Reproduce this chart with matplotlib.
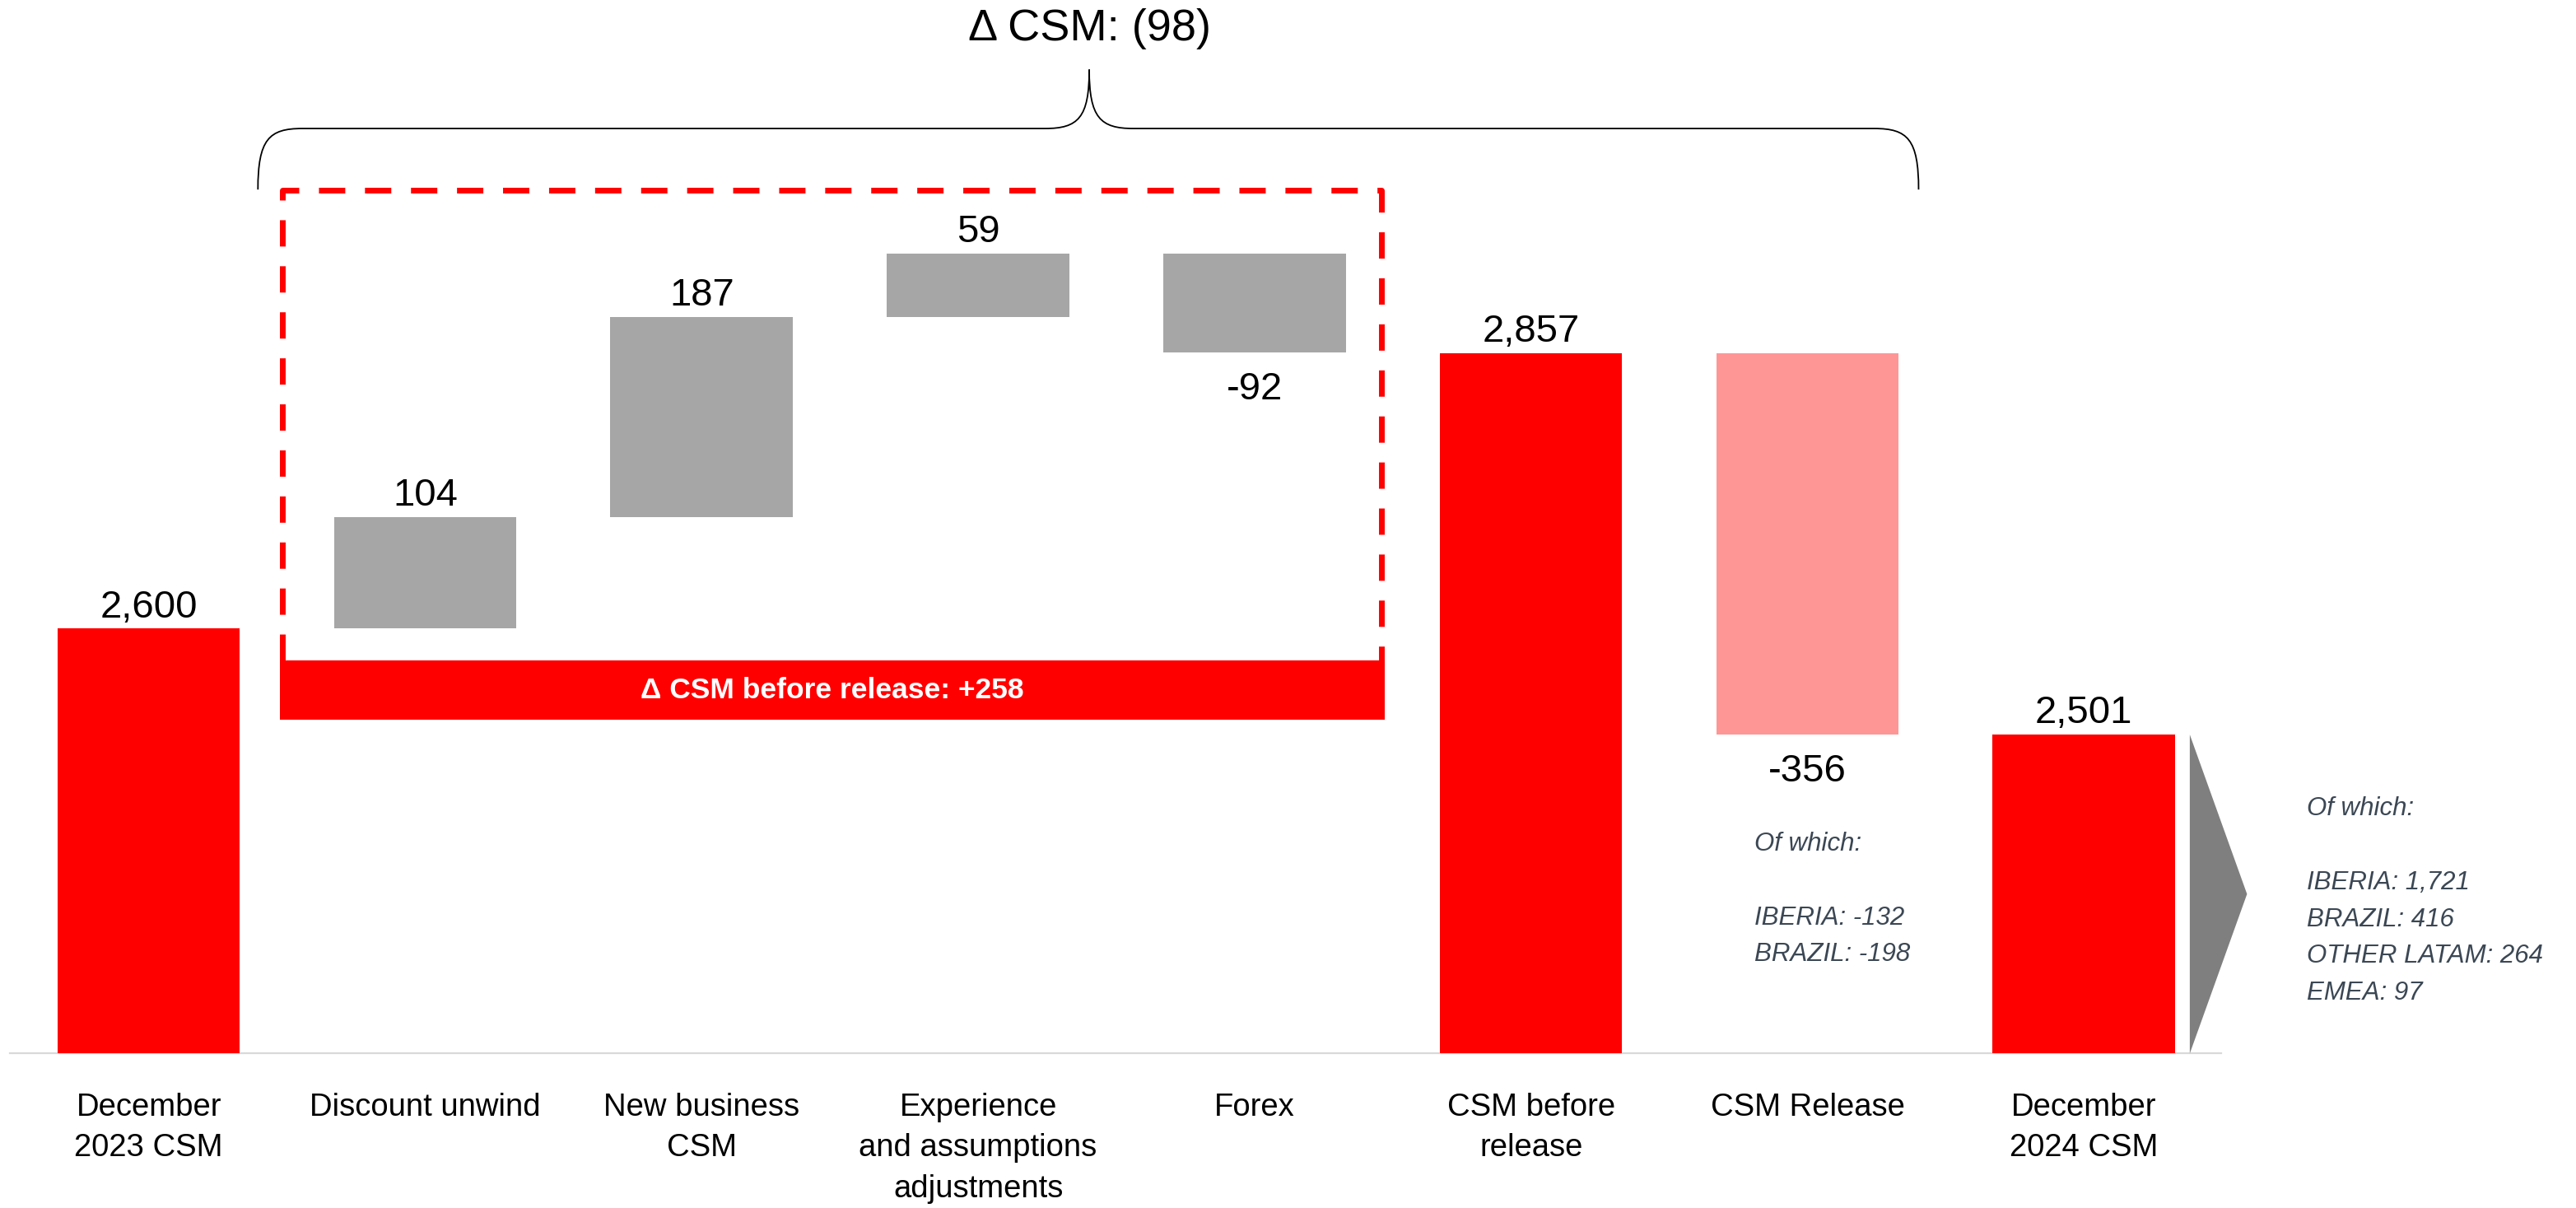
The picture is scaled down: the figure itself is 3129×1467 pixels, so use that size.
import matplotlib
matplotlib.use("Agg")
import matplotlib.pyplot as plt
from matplotlib.path import Path
from matplotlib.patches import PathPatch, Polygon

plt.rcParams['font.family'] = ['Liberation Sans', 'DejaVu Sans']

# data
categories = ["December\n2023 CSM", "Discount unwind", "New business\nCSM",
              "Experience\nand assumptions\nadjustments", "Forex",
              "CSM before\nrelease", "CSM Release", "December\n2024 CSM"]
values = [2600, 104, 187, 59, -92, 2857, -356, 2501]
kinds = ["total", "step", "step", "step", "step", "total", "release", "total"]
delta_before_release = 258
delta_total = -98
release_breakdown = [("IBERIA", -132), ("BRAZIL", -198)]
closing_breakdown = [("IBERIA", 1721), ("BRAZIL", 416), ("OTHER LATAM", 264), ("EMEA", 97)]

BASE = 2203.3   # value where the (broken) axis starts
colors = {"total": "#FF0000", "step": "#A6A6A6", "release": "#FF9696"}
TXT = "#3B4754"

fig = plt.figure(figsize=(31.29, 14.67), dpi=100)
ax = fig.add_axes([0, 0, 1, 1])
ax.set_xlim(-0.538, 8.78)
ax.set_ylim(2059, 3187)
ax.axis("off")

w = 0.66
level = None
for i, (cat, v, k) in enumerate(zip(categories, values, kinds)):
    if k == "total":
        bottom, top = BASE, v
        level = v
    else:
        bottom, top = level, level + v
        level = level + v
    lo, hi = min(bottom, top), max(bottom, top)
    ax.bar(i, hi - lo, bottom=lo, width=w, color=colors[k], zorder=3)
    label = f"{v:,}"
    if v >= 0:
        ax.annotate(label, (i, hi), xytext=(0, 10), textcoords="offset points",
                    ha="center", va="baseline", fontsize=34, color="black")
    else:
        ax.annotate(label, (i, lo), xytext=(0, -41), textcoords="offset points",
                    ha="center", va="baseline", fontsize=34, color="black")
    ax.text(i, 2167, cat, ha="center", va="top", fontsize=27.5,
            linespacing=1.49, color="black")

# baseline
ax.plot([-0.502, 7.496], [BASE, BASE], color="#D9D9D9", lw=1.6, zorder=2)

# dashed box around the movement steps
ax.plot([0.483, 0.483, 4.459, 4.459], [2570, 3009, 3009, 2570], color="#FF0000",
        lw=5, linestyle=(0, (4.6, 3.45)), zorder=4)
ax.fill_between([0.475, 4.471], 2515, 2570, color="#FF0000", zorder=5, lw=0)
ax.text((0.475 + 4.471) / 2, 2542.5, f"Δ CSM before release: +{delta_before_release}",
        ha="center", va="center", fontsize=25.5, fontweight="bold", color="white", zorder=6)

# curly brace
x0, x1, xm = 0.395, 6.402, 3.402
yb, yh, yt = 3010, 3067, 3122
rw = 0.16
verts = [(x0, yb), (x0, yh - 10), (x0 + 0.04, yh), (x0 + rw, yh),
         (xm - rw, yh),
         (xm - 0.04, yh), (xm, yh + 10), (xm, yt),
         (xm, yh + 10), (xm + 0.04, yh), (xm + rw, yh),
         (x1 - rw, yh),
         (x1 - 0.04, yh), (x1, yh - 10), (x1, yb)]
codes = [Path.MOVETO, Path.CURVE4, Path.CURVE4, Path.CURVE4, Path.LINETO,
         Path.CURVE4, Path.CURVE4, Path.CURVE4,
         Path.CURVE4, Path.CURVE4, Path.CURVE4, Path.LINETO,
         Path.CURVE4, Path.CURVE4, Path.CURVE4]
ax.add_patch(PathPatch(Path(verts, codes), fill=False, lw=1.3, color="black"))
ax.text(xm, 3160, f"Δ CSM: ({abs(delta_total)})", ha="center", va="center",
        fontsize=39, color="black")

# arrow out of the closing bar
ax.add_patch(Polygon([(7.383, values[-1]), (7.59, (values[-1] + BASE) / 2), (7.383, BASE)],
                     closed=True, color="#7F7F7F", lw=0, zorder=3))

# breakdown notes
step = 34.5
ax.text(5.808, 2399, "Of which:", ha="left", va="center", fontsize=22.5,
        style="italic", color=TXT)
for j, (name, val) in enumerate(release_breakdown):
    ax.text(5.808, 2330 - j * step, f"{name}: {val:,}", ha="left", va="center",
            fontsize=22.5, style="italic", color=TXT)
ax.text(7.805, 2432, "Of which:", ha="left", va="center", fontsize=22.5,
        style="italic", color=TXT)
for j, (name, val) in enumerate(closing_breakdown):
    ax.text(7.805, 2363 - j * step, f"{name}: {val:,}", ha="left", va="center",
            fontsize=22.5, style="italic", color=TXT)

fig.savefig("out.png", dpi=100, facecolor="white")
